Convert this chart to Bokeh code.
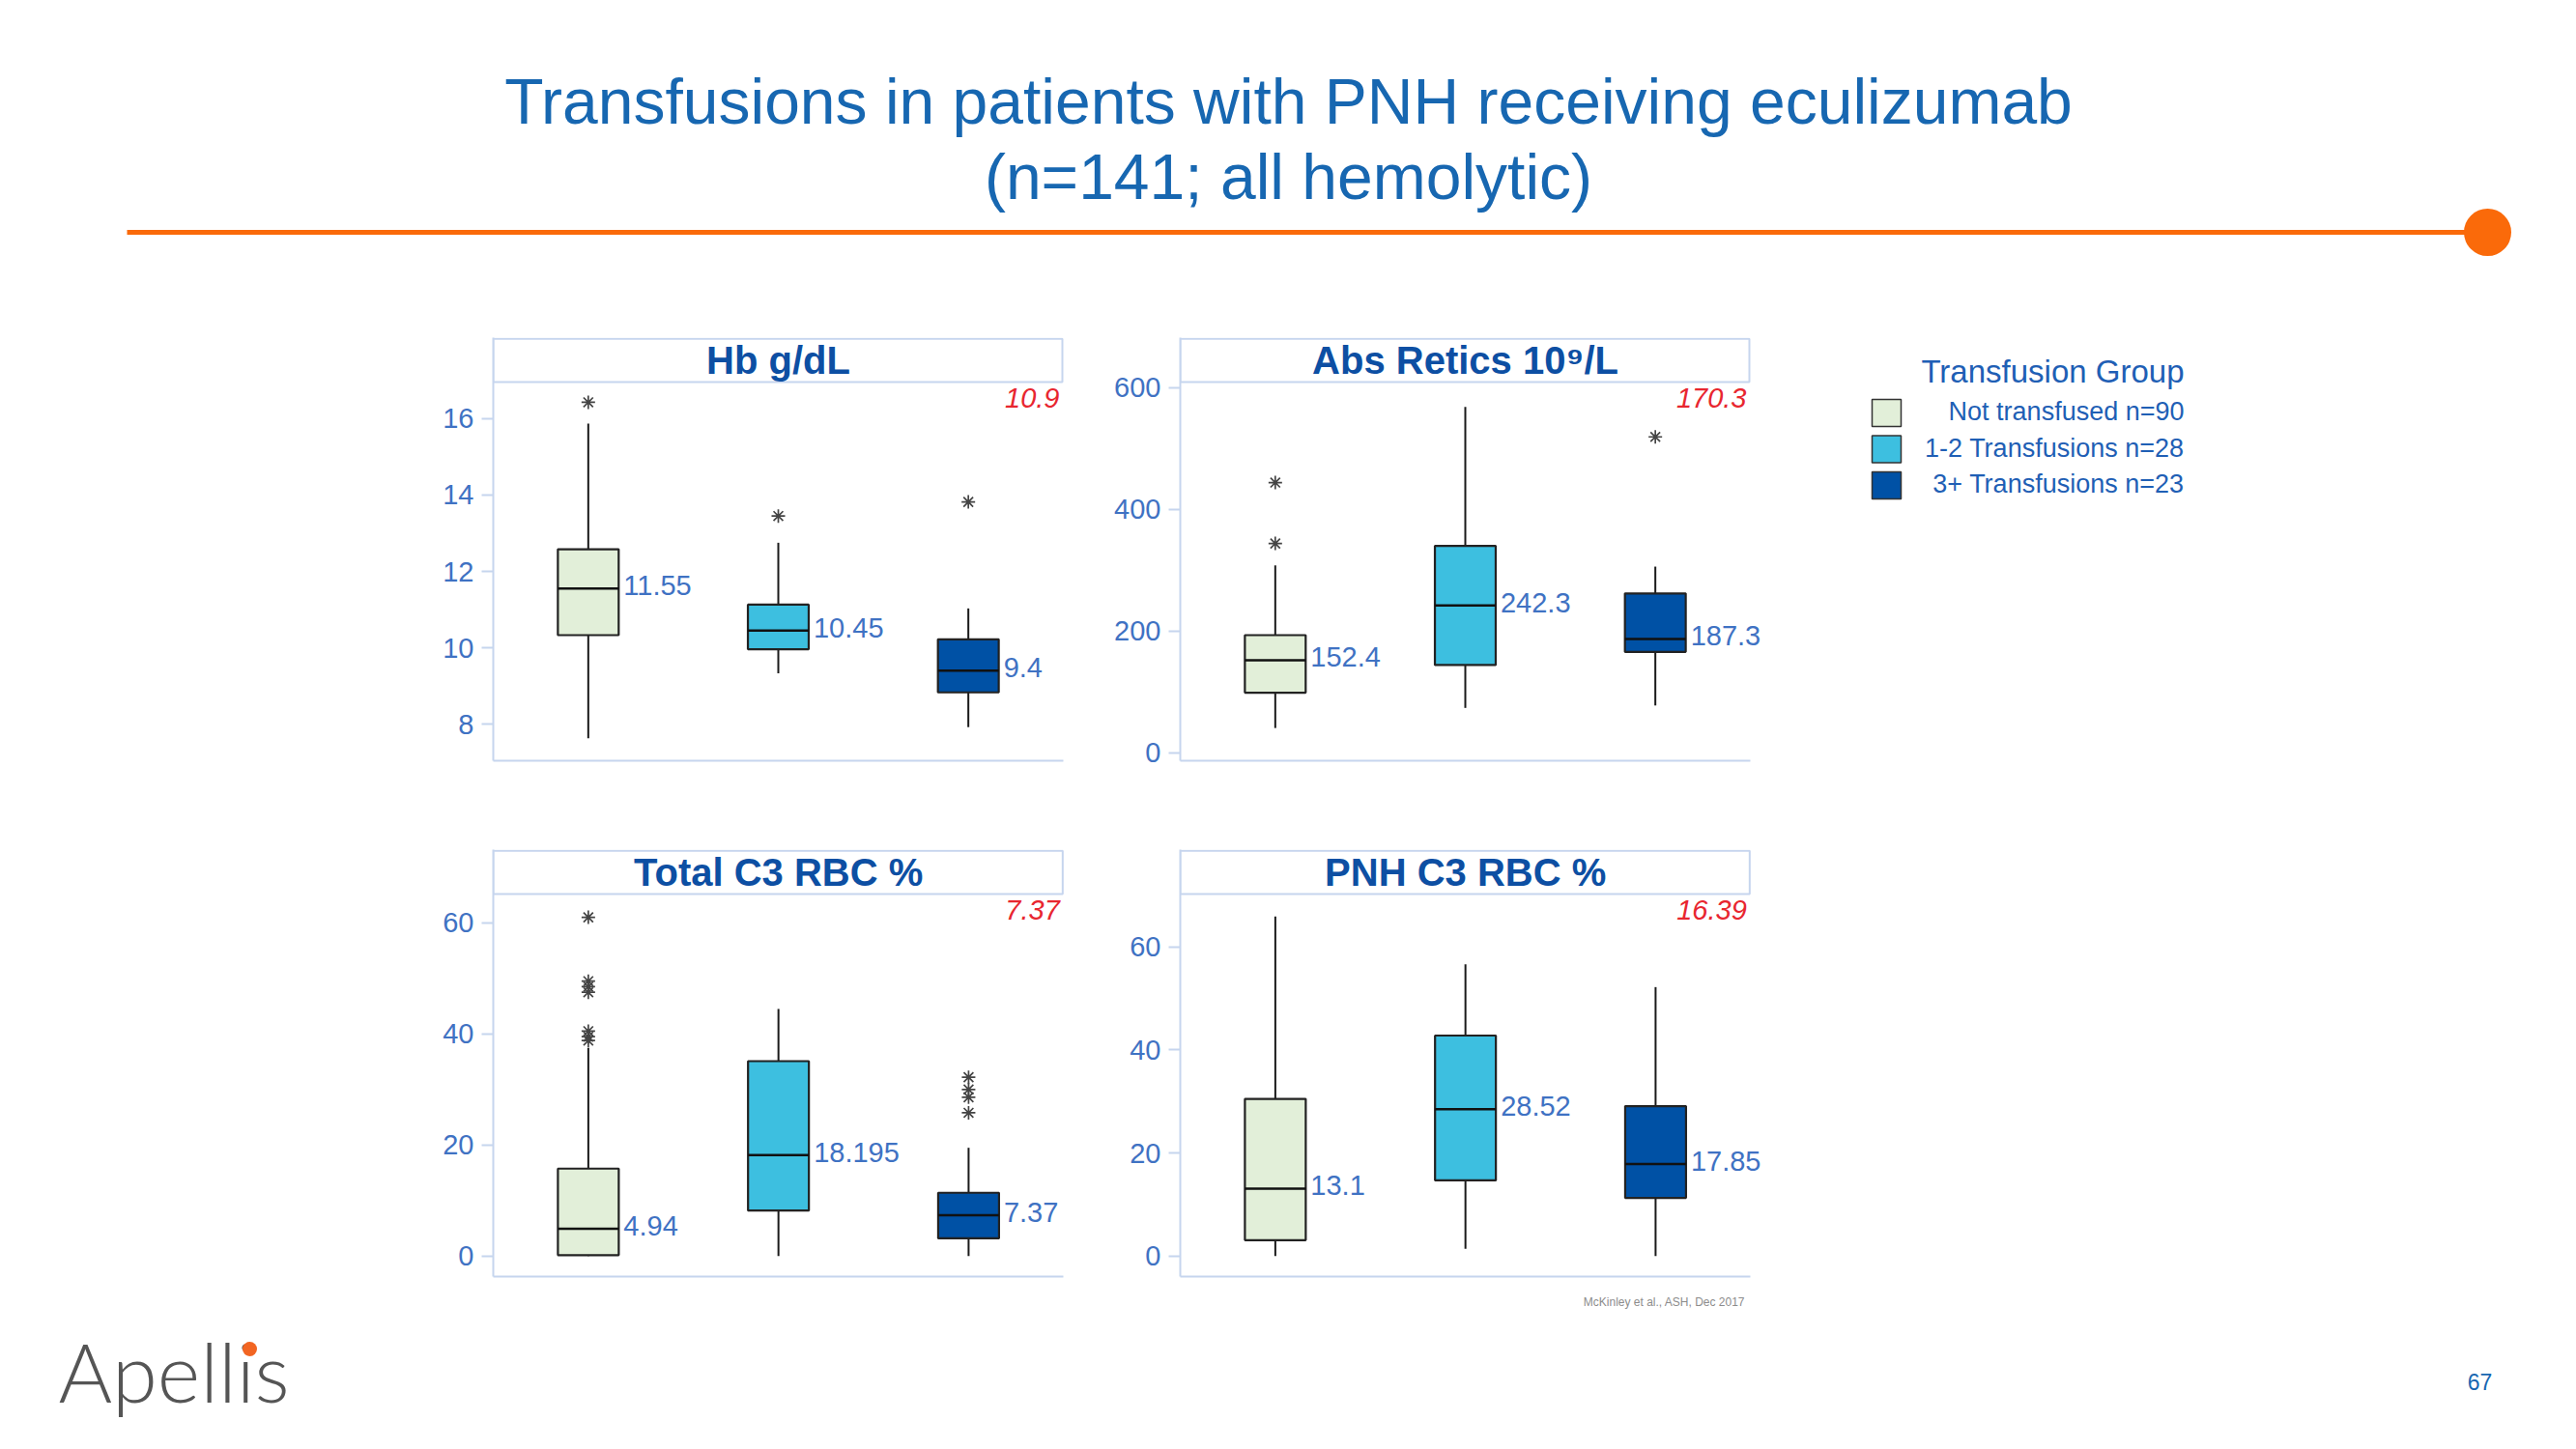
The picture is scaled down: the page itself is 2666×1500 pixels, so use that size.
from bokeh.plotting import figure
from bokeh.models import Range1d, FixedTicker, Spacer, LabelSet, ColumnDataSource
from bokeh.layouts import row, column
from bokeh.embed import file_html
from bokeh.resources import INLINE
from bokeh.core.properties import value

# ---------------- data ----------------
groups = ["Not transfused n=90", "1-2 Transfusions n=28", "3+ Transfusions n=23"]
legend_title = "Transfusion Group"
box_colors = ["#e2efd9", "#3dbfe0", "#0051a5"]

hb_title = "Hb g/dL"
hb_q1 = [10.33, 9.96, 8.83]
hb_med = [11.55, 10.45, 9.4]
hb_q3 = [12.58, 11.13, 10.22]
hb_lo = [7.63, 9.33, 7.92]
hb_hi = [15.87, 12.75, 11.03]
hb_out = [[16.43], [13.45], [13.82]]
hb_ref = 10.9
hb_ticks = [8, 10, 12, 14, 16]

ret_title = "Abs Retics 10\u2079/L"
ret_q1 = [99, 144.5, 166]
ret_med = [152.4, 242.3, 187.3]
ret_q3 = [193.5, 340, 262]
ret_lo = [41, 74, 78]
ret_hi = [308, 568, 306]
ret_out = [[444, 344], [], [519]]
ret_ref = 170.3
ret_ticks = [0, 200, 400, 600]

tc3_title = "Total C3 RBC %"
tc3_q1 = [0.17, 8.2, 3.2]
tc3_med = [4.94, 18.195, 7.37]
tc3_q3 = [15.75, 35.1, 11.4]
tc3_lo = [0, 0, 0]
tc3_hi = [37.5, 44.5, 19.5]
tc3_out = [[61.0, 49.5, 48.5, 47.5, 40.5, 39.5, 38.8], [], [32.2, 30.0, 28.6, 25.8]]
tc3_ref = 7.37
tc3_ticks = [0, 20, 40, 60]

pc3_title = "PNH C3 RBC %"
pc3_q1 = [3.1, 14.7, 11.3]
pc3_med = [13.1, 28.52, 17.85]
pc3_q3 = [30.5, 42.8, 29.1]
pc3_lo = [0, 1.4, 0]
pc3_hi = [65.9, 56.6, 52.2]
pc3_out = [[], [], []]
pc3_ref = 16.39
pc3_ticks = [0, 20, 40, 60]

main_title_1 = "Transfusions in patients with PNH receiving eculizumab"
main_title_2 = "(n=141; all hemolytic)"
citation = "McKinley et al., ASH, Dec 2017"
logo_text = "Apellis"
page_number = "67"

# ---------------- styles ----------------
PANEL_FONT = "Liberation Sans Narrow, Liberation Sans, Arial, sans-serif"
SANS = "Liberation Sans, Arial, sans-serif"
AXIS_BLUE = "#c6d5ee"
LABEL_BLUE = "#3f72c3"
TITLE_BLUE = "#0d4fa3"
RED = "#e8262f"
TITLE_H = 46
EXTRA_R = 40  # room right of each panel for the last median label


def make_panel(title, q1, med, q3, lo, hi, outliers, ref, ticks, y_lo, y_hi_plot,
               fig_w, fig_h, b_left, vis_w, b_top, b_bottom):
    frame_w = vis_w + EXTRA_R
    b_right = fig_w - b_left - frame_w
    frame_h = fig_h - b_top - b_bottom
    plot_h = frame_h - TITLE_H
    upp = (y_hi_plot - y_lo) / plot_h  # data units per pixel (y)
    xpx = 3.0 / vis_w                  # data units per pixel (x)
    y_end = y_lo + upp * frame_h
    p = figure(width=fig_w, height=fig_h, x_range=Range1d(0, 3 + xpx * EXTRA_R),
               y_range=Range1d(y_lo, y_end), output_backend="svg",
               toolbar_location=None, min_border_left=b_left,
               min_border_right=b_right, min_border_top=b_top,
               min_border_bottom=b_bottom)
    p.xgrid.visible = False
    p.ygrid.visible = False
    p.outline_line_color = None
    p.background_fill_color = "white"
    p.border_fill_color = "white"

    xs = [0.5, 1.5, 2.5]
    bw = 0.32
    # whiskers
    p.segment(x0=xs, y0=q3, x1=xs, y1=hi, line_color="#1a1a1a", line_width=2)
    p.segment(x0=xs, y0=lo, x1=xs, y1=q1, line_color="#1a1a1a", line_width=2)
    # boxes
    p.vbar(x=xs, width=bw, bottom=q1, top=q3, fill_color=box_colors,
           line_color="#222222", line_width=2.2)
    # medians
    p.segment(x0=[x - bw / 2 for x in xs], y0=med, x1=[x + bw / 2 for x in xs],
              y1=med, line_color="#111111", line_width=2.5)
    # outliers
    ox, oy = [], []
    for x, vals in zip(xs, outliers):
        for v in vals:
            ox.append(x)
            oy.append(v)
    if ox:
        p.scatter(ox, oy, marker="asterisk", size=14, line_color="#444444",
                  line_width=1.7)
    # median labels
    med_src = ColumnDataSource(dict(x=[x + bw / 2 for x in xs], y=med,
                                    t=[str(m) for m in med]))
    p.add_layout(LabelSet(x="x", y="y", text="t", source=med_src,
                          x_offset=5, y_offset=3, text_align="left",
                          text_baseline="middle", text_font=value(PANEL_FONT),
                          text_font_size="29px", text_color=LABEL_BLUE))
    # reference value (red)
    ref_src = ColumnDataSource(dict(x=[3], y=[y_hi_plot], t=[str(ref)]))
    p.add_layout(LabelSet(x="x", y="y", text="t", source=ref_src,
                          x_offset=-4, y_offset=-6, text_align="right",
                          text_baseline="top", text_font=value(PANEL_FONT),
                          text_font_size="29px", text_font_style="italic",
                          text_color=RED))
    # title box
    p.quad(left=[0], right=[3 - 1.0 * xpx], bottom=[y_hi_plot],
           top=[y_end - 1.2 * upp], fill_color="white", line_color=AXIS_BLUE,
           line_width=2)
    p.text(x=[1.5], y=[y_hi_plot + upp * TITLE_H / 2], text=[title],
           text_align="center", text_baseline="middle",
           text_font=value(PANEL_FONT), text_font_size="40px",
           text_font_style="bold", text_color=TITLE_BLUE)
    # axes
    p.yaxis.ticker = FixedTicker(ticks=ticks)
    p.yaxis.axis_line_color = AXIS_BLUE
    p.yaxis.axis_line_width = 2
    p.yaxis.major_tick_line_color = AXIS_BLUE
    p.yaxis.major_tick_line_width = 2
    p.yaxis.major_tick_out = 12
    p.yaxis.major_tick_in = 0
    p.yaxis.minor_tick_line_color = None
    p.yaxis.major_label_standoff = 8
    p.yaxis.major_label_text_font = PANEL_FONT
    p.yaxis.major_label_text_font_size = "29px"
    p.yaxis.major_label_text_color = LABEL_BLUE
    p.xaxis.ticker = FixedTicker(ticks=[])
    p.xaxis.bounds = (0, 3)
    p.xaxis.axis_line_color = AXIS_BLUE
    p.xaxis.axis_line_width = 2
    p.xaxis.major_tick_line_color = None
    p.xaxis.minor_tick_line_color = None
    p.xaxis.major_tick_out = 0
    p.xaxis.major_label_standoff = 0
    p.xaxis.major_label_text_font_size = "0px"
    return p


def blank(w, h):
    f = figure(width=w, height=h, x_range=Range1d(0, w), y_range=Range1d(h, 0),
               output_backend="svg", toolbar_location=None,
               x_axis_type=None, y_axis_type=None, min_border=0)
    f.xgrid.visible = False
    f.ygrid.visible = False
    f.outline_line_color = None
    f.background_fill_color = "white"
    f.border_fill_color = "white"
    return f


# ---------------- header ----------------
header = blank(2658, 330)
header.text(x=[1333, 1333], y=[104, 182], text=[main_title_1, main_title_2],
            text_align="center", text_baseline="middle",
            text_font=value(SANS), text_font_size="66px", text_color="#1767b1")
header.segment(x0=[131], y0=[240], x1=[2574], y1=[240], line_color="#fa6a0a",
               line_width=5)
header.circle(x=[2574], y=[240], radius=24.5, fill_color="#fa6a0a",
              line_color=None)

# ---------------- panels ----------------
p1 = make_panel(hb_title, hb_q1, hb_med, hb_q3, hb_lo, hb_hi, hb_out, hb_ref,
                hb_ticks, 7.04, 16.96, 750, 505, 110, 590, 19, 48)
p3 = make_panel(tc3_title, tc3_q1, tc3_med, tc3_q3, tc3_lo, tc3_hi, tc3_out,
                tc3_ref, tc3_ticks, -3.69, 65.19, 750, 500, 105, 595, 44, 14)
p2 = make_panel(ret_title, ret_q1, ret_med, ret_q3, ret_lo, ret_hi, ret_out,
                ret_ref, ret_ticks, -12.7, 609, 730, 505, 71, 590, 19, 48)
p4 = make_panel(pc3_title, pc3_q1, pc3_med, pc3_q3, pc3_lo, pc3_hi, pc3_out,
                pc3_ref, pc3_ticks, -3.97, 70.26, 730, 500, 71, 595, 44, 14)

# ---------------- legend ----------------
leg = blank(778, 1005)
leg.text(x=[380], y=[54], text=[legend_title], text_align="right",
         text_baseline="middle", text_font=value(SANS), text_font_size="33px",
         text_color="#1f5fb5")
leg.rect(x=[72, 72, 72], y=[97, 134.5, 172], width=30, height=28,
         fill_color=box_colors, line_color="#333333", line_width=1.5)
leg.text(x=[380, 380, 380], y=[95, 133, 170], text=groups, text_align="right",
         text_baseline="middle", text_font=value(SANS), text_font_size="27px",
         text_color="#1f5fb5")

# ---------------- footer ----------------
footer = blank(2658, 157)
footer.text(x=[1722], y=[12], text=[citation], text_align="center",
            text_baseline="middle", text_font=value(SANS),
            text_font_size="12px", text_color="#8c8c8c")
footer.text(x=[60], y=[83], text=[logo_text], text_align="left",
            text_baseline="middle", text_font=value("Lato Light, Lato, sans-serif"),
            text_font_size="85px", text_color="#555555")
footer.circle(x=[258], y=[61], radius=7.5, fill_color="#f26522",
              line_color=None)
footer.text(x=[2566], y=[95], text=[page_number], text_align="center",
            text_baseline="middle", text_font=value(SANS),
            text_font_size="23px", text_color="#1767b1")

layout = column(
    header,
    row(Spacer(width=400, height=1005), column(p1, p3), column(p2, p4), leg),
    footer,
)

open("out.html", "w").write(file_html(layout, INLINE))
